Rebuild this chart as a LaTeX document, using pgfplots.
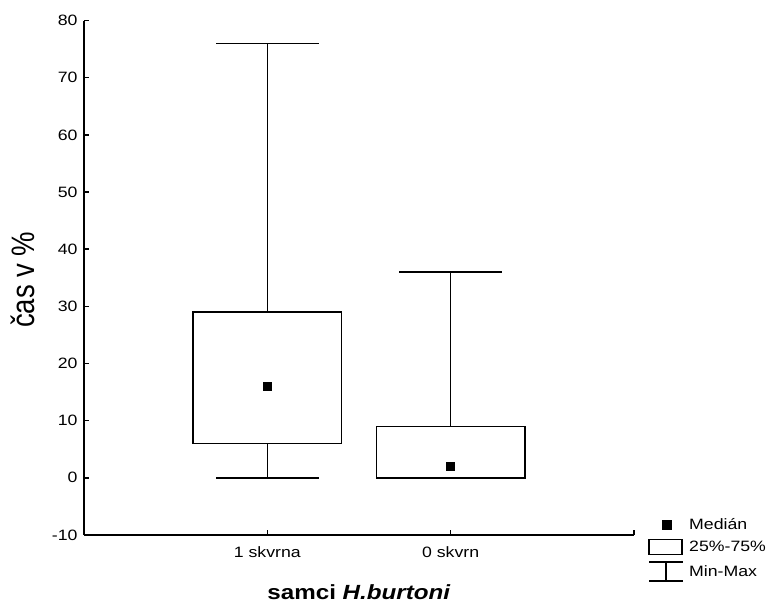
\documentclass[border=0pt]{standalone}
\usepackage{fontspec}
\setmainfont{Liberation Sans}
\usepackage{graphicx}
\usepackage{pgfplots}
\pgfplotsset{compat=1.18}
\usepgfplotslibrary{statistics}
\newcommand{\sx}[1]{\scalebox{1.18}[1]{#1}}
\begin{document}
\begin{tikzpicture}[x=1pt,y=1pt]
\path[use as bounding box] (0,0) rectangle (769,603);
\begin{axis}[
  at={(84pt,68pt)}, anchor=south west,
  scale only axis, width=550pt, height=514.5pt,
  xmin=0, xmax=3, ymin=-10, ymax=80,
  axis x line*=bottom, axis y line*=left,
  axis line style={line width=1.6pt, black},
  every tick/.style={line width=1.6pt, black},
  tick align=inside, major tick length=5pt,
  xtick={1,2,3}, xticklabels={\sx{1 skvrna},\sx{0 skvrn},{}},
  ytick={-10,0,...,80},
  yticklabel={\sx{\pgfmathprintnumber{\tick}}},
  /pgf/number format/assume math mode=true,
  tick label style={font=\fontsize{15}{18}\selectfont},
  xticklabel style={yshift=-8pt},
  yticklabel style={xshift=-3pt},
  xlabel={\sx{samci \textit{H.burtoni}}},
  xlabel style={font=\fontsize{20.5}{23}\selectfont\bfseries, at={(axis description cs:0.5,-0.1244)}, anchor=base},
  ylabel={\scalebox{1}[1.18]{čas v \%}},
  ylabel style={font=\fontsize{27.5}{31}\selectfont, at={(axis description cs:-0.111,0.496)}, anchor=center},
  clip=false,
  legend cell align=left,
  legend style={at={(axis description cs:1.0255,0.037)}, anchor=north west, draw=none, fill=none,
    font=\fontsize{15}{18}\selectfont, inner sep=0pt, row sep=6pt},
  boxplot/draw direction=y,
  boxplot/every box/.style={draw=black, line width=1.6pt},
  boxplot/every whisker/.style={draw=black, line width=1.6pt},
  boxplot/every median/.style={draw=none},
]
\addlegendimage{legend image code/.code={\fill[black] (13.5pt,-4.3pt) rectangle (22.5pt,4.3pt); \path (0pt,0pt) (38pt,0pt);}}
\addlegendentry{\sx{Medián}}
\addlegendimage{legend image code/.code={\draw[black,line width=1.6pt] (0pt,-7.5pt) rectangle (33pt,7.5pt); \path (0pt,0pt) (38pt,0pt);}}
\addlegendentry{\sx{25\%-75\%}}
\addlegendimage{legend image code/.code={\draw[black,line width=1.6pt] (0pt,9.5pt)--(34pt,9.5pt) (0pt,-9.5pt)--(34pt,-9.5pt) (17pt,-9.5pt)--(17pt,9.5pt); \path (0pt,0pt) (38pt,0pt);}}
\addlegendentry{\sx{Min-Max}}

\addplot[forget plot, black, line width=1.6pt, boxplot prepared={draw position=1, lower whisker=0, lower quartile=6, median=16, upper quartile=29, upper whisker=76, box extend=0.81, whisker extend=0.56}] coordinates {};
\addplot[forget plot, black, line width=1.6pt, boxplot prepared={draw position=2, lower whisker=0, lower quartile=0, median=2, upper quartile=9, upper whisker=36, box extend=0.81, whisker extend=0.56}] coordinates {};
\addplot[forget plot, only marks, mark=square*, mark size=3.8pt, black, mark options={line width=0.8pt}] coordinates {(1,16) (2,2)};
\end{axis}
\end{tikzpicture}
\end{document}
